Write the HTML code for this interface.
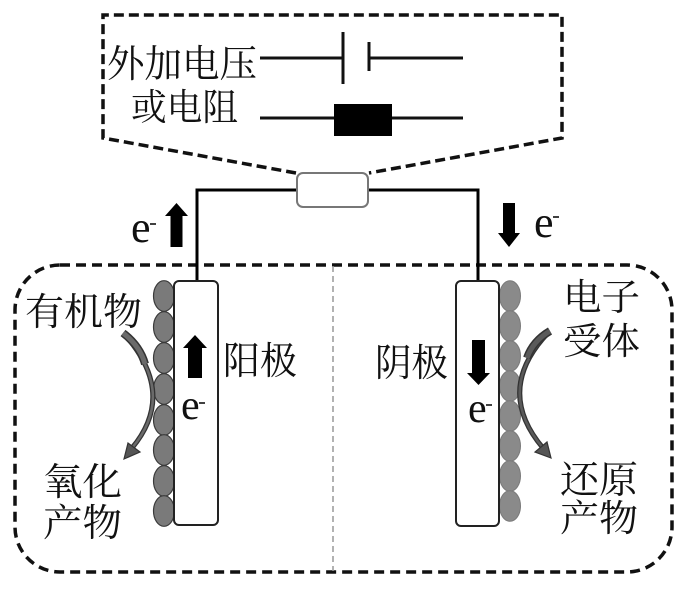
<!DOCTYPE html>
<html><head><meta charset="utf-8"><style>
html,body{margin:0;padding:0;background:#fff;width:700px;height:591px;overflow:hidden}
svg{display:block}
.cjk{font-family:"Liberation Serif","Noto Serif CJK SC",serif;fill:#111}
.e{font-family:"Liberation Serif",serif;fill:#111}
</style></head><body>
<svg width="700" height="591" viewBox="0 0 700 591" xmlns="http://www.w3.org/2000/svg">
<!-- top dashed callout -->
<path d="M296 173 L103 138 V15 H562 V138 L369 173" fill="none" stroke="#111" stroke-width="3.5" stroke-dasharray="10 5"/>
<!-- capacitor -->
<line x1="260" y1="58" x2="343" y2="58" stroke="#111" stroke-width="3"/>
<line x1="343" y1="32" x2="343" y2="84" stroke="#111" stroke-width="3"/>
<line x1="369" y1="42" x2="369" y2="71" stroke="#111" stroke-width="3"/>
<line x1="369" y1="58" x2="463" y2="58" stroke="#111" stroke-width="3"/>
<!-- resistor -->
<line x1="260" y1="118" x2="463" y2="118" stroke="#111" stroke-width="3"/>
<rect x="334" y="104" width="58" height="32" fill="#000"/>
<text class="cjk" x="107" y="77" font-size="38" textLength="150" lengthAdjust="spacingAndGlyphs">外加电压</text>
<text class="cjk" x="131" y="120" font-size="37" textLength="107" lengthAdjust="spacingAndGlyphs">或电阻</text>

<!-- bottom dashed container -->
<rect x="15" y="265" width="657" height="307" rx="45" ry="45" fill="none" stroke="#111" stroke-width="3.5" stroke-dasharray="10 6"/>
<line x1="333" y1="266" x2="333" y2="571" stroke="#999" stroke-width="1.5" stroke-dasharray="6 4"/>

<!-- wires -->
<path d="M197 281 V190 H297" fill="none" stroke="#000" stroke-width="3"/>
<path d="M368 190 H478 V281" fill="none" stroke="#000" stroke-width="3"/>
<rect x="297" y="173" width="71" height="34" rx="6" fill="#fff" stroke="#777" stroke-width="2"/>

<!-- top e- arrows -->
<polygon points="176.5,203 188,216 182.5,216 182.5,247 170.5,247 170.5,216 165,216" fill="#000"/>
<text class="e" x="131" y="242" font-size="44">e</text>
<line x1="150" y1="224" x2="156" y2="224" stroke="#111" stroke-width="1.6"/>
<polygon points="503,203 515,203 515,233 520,233 509,247 498,233 503,233" fill="#000"/>
<text class="e" x="534" y="237" font-size="44">e</text>
<line x1="553" y1="217" x2="559" y2="217" stroke="#111" stroke-width="1.6"/>

<!-- anode -->
<g fill="#7a7a7a" stroke="#3a3a3a" stroke-width="1.2">
<ellipse cx="164" cy="296" rx="10.5" ry="15.3"/>
<ellipse cx="164" cy="327" rx="10.5" ry="15.3"/>
<ellipse cx="164" cy="358" rx="10.5" ry="15.3"/>
<ellipse cx="164" cy="389" rx="10.5" ry="15.3"/>
<ellipse cx="164" cy="420" rx="10.5" ry="15.3"/>
<ellipse cx="164" cy="450" rx="10.5" ry="15.3"/>
<ellipse cx="164" cy="481" rx="10.5" ry="15.3"/>
<ellipse cx="164" cy="511" rx="10.5" ry="15.3"/>
</g>
<rect x="174" y="281" width="44" height="244" rx="5" fill="#fff" stroke="#222" stroke-width="2"/>
<polygon points="195,335 207,348 202,348 202,378 188,378 188,348 183,348" fill="#000"/>
<text class="e" x="181" y="419" font-size="42">e</text>
<line x1="199" y1="403" x2="205" y2="403" stroke="#111" stroke-width="1.6"/>

<!-- cathode -->
<g fill="#8a8a8a" stroke="#7a7a7a" stroke-width="1">
<ellipse cx="510" cy="296" rx="10.5" ry="15.3"/>
<ellipse cx="510" cy="326" rx="10.5" ry="15.3"/>
<ellipse cx="510" cy="356" rx="10.5" ry="15.3"/>
<ellipse cx="510" cy="386" rx="10.5" ry="15.3"/>
<ellipse cx="510" cy="416" rx="10.5" ry="15.3"/>
<ellipse cx="510" cy="446" rx="10.5" ry="15.3"/>
<ellipse cx="510" cy="476" rx="10.5" ry="15.3"/>
<ellipse cx="510" cy="506" rx="10.5" ry="15.3"/>
</g>
<rect x="456" y="281" width="43" height="245" rx="5" fill="#fff" stroke="#222" stroke-width="2"/>
<polygon points="472,340 485,340 485,373 490,373 478.5,385 467,373 472,373" fill="#000"/>
<text class="e" x="468" y="422" font-size="42">e</text>
<line x1="486" y1="405" x2="492" y2="405" stroke="#111" stroke-width="1.6"/>

<!-- curved arrows -->
<path d="M125 335 Q177 394 132 448" fill="none" stroke="#333" stroke-width="5"/>
<path d="M125 335 Q177 394 132 448" fill="none" stroke="#6a6a6a" stroke-width="2.5"/>
<path d="M123 333 Q140 346 145 364" fill="none" stroke="#333" stroke-width="8"/>
<path d="M123 333 Q140 346 145 364" fill="none" stroke="#6a6a6a" stroke-width="5"/>
<polygon points="124,459 128,443 140,452" fill="#555" stroke="#333" stroke-width="1.2"/>

<path d="M548 333 Q494 390 543 448" fill="none" stroke="#333" stroke-width="5"/>
<path d="M548 333 Q494 390 543 448" fill="none" stroke="#5a5a5a" stroke-width="2.5"/>
<path d="M550 331 Q533 341 527 358" fill="none" stroke="#333" stroke-width="8"/>
<path d="M550 331 Q533 341 527 358" fill="none" stroke="#5a5a5a" stroke-width="5"/>
<polygon points="551,458 535,452 547,442" fill="#555" stroke="#333" stroke-width="1.2"/>

<!-- labels -->
<text class="cjk" x="25" y="325" font-size="38" textLength="117" lengthAdjust="spacingAndGlyphs">有机物</text>
<text class="cjk" x="223" y="374" font-size="38" textLength="74" lengthAdjust="spacingAndGlyphs">阳极</text>
<text class="cjk" x="43" y="495" font-size="38" textLength="79" lengthAdjust="spacingAndGlyphs">氧化</text>
<text class="cjk" x="43" y="536" font-size="38" textLength="79" lengthAdjust="spacingAndGlyphs">产物</text>
<text class="cjk" x="563" y="310" font-size="37" textLength="77" lengthAdjust="spacingAndGlyphs">电子</text>
<text class="cjk" x="563" y="354" font-size="37" textLength="77" lengthAdjust="spacingAndGlyphs">受体</text>
<text class="cjk" x="375" y="376" font-size="38" textLength="73" lengthAdjust="spacingAndGlyphs">阴极</text>
<text class="cjk" x="560" y="493" font-size="38" textLength="78" lengthAdjust="spacingAndGlyphs">还原</text>
<text class="cjk" x="560" y="531" font-size="37" textLength="78" lengthAdjust="spacingAndGlyphs">产物</text>
</svg>
</body></html>
